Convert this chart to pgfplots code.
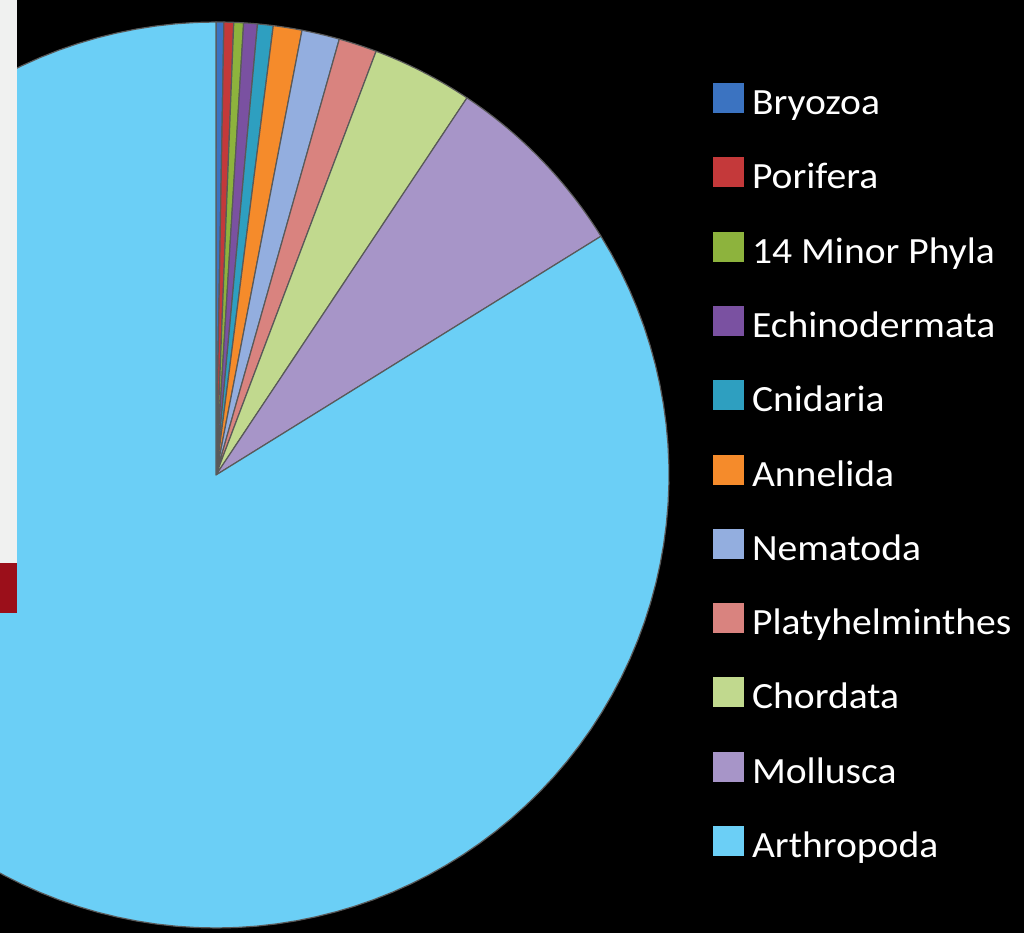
\documentclass[border=0pt]{standalone}
\usepackage{pgfplots}
\pgfplotsset{compat=1.18}
\usepackage{pgfplotstable}
\usepackage{fontspec}
\setmainfont{Carlito}
\newfontfamily\legfont[FakeStretch=1.07]{Carlito}

\definecolor{cBry}{HTML}{3B73C1}
\definecolor{cPor}{HTML}{C4393A}
\definecolor{cMin}{HTML}{8DB33D}
\definecolor{cEch}{HTML}{7A51A1}
\definecolor{cCni}{HTML}{2E9FC0}
\definecolor{cAnn}{HTML}{F58B2B}
\definecolor{cNem}{HTML}{93AEDF}
\definecolor{cPla}{HTML}{D9837F}
\definecolor{cCho}{HTML}{C1D98E}
\definecolor{cMol}{HTML}{A795C8}
\definecolor{cArt}{HTML}{6BCFF6}
\definecolor{panelgray}{HTML}{F0F1F0}
\definecolor{panelred}{HTML}{9B0F1A}

% share of described species (percent)
\pgfplotstableread[col sep=comma]{
phylum,value,col
Bryozoa,0.278,cBry
Porifera,0.347,cPor
14 Minor Phyla,0.347,cMin
Echinodermata,0.489,cEch
Cnidaria,0.558,cCni
Annelida,1.022,cAnn
Nematoda,1.347,cNem
Platyhelminthes,1.361,cPla
Chordata,3.597,cCho
Mollusca,6.819,cMol
Arthropoda,83.835,cArt
}\piedata

\begin{document}
\begin{tikzpicture}[x=1pt,y=1pt]
\useasboundingbox (0,0) rectangle (1024,933);
\fill[black] (0,0) rectangle (1024,933);
\gdef\cumang{0}
\begin{axis}[
  at={(0,0)}, anchor=south west,
  scale only axis, width=1024pt, height=933pt,
  xmin=0, xmax=1024, ymin=0, ymax=933,
  hide axis, clip=true,
  legend image code/.code={\fill[#1,draw=none] (0pt,-8pt) rectangle (31pt,22pt);},
  legend cell align=left,
  legend style={
    at={(rel axis cs:0.6963,0.9110)}, anchor=north west,
    draw=none, fill=none, inner sep=0pt, outer sep=0pt,
    text=white, font=\legfont\fontsize{37}{44}\selectfont,
    row sep=33.8pt, column sep=8pt,
    nodes={inner sep=0pt, text height=28pt, text depth=9pt},
  },
]
\pgfplotsinvokeforeach{0,...,10}{
  \pgfplotstablegetelem{#1}{value}\of\piedata \let\sliceval=\pgfplotsretval
  \pgfplotstablegetelem{#1}{col}\of\piedata \let\slicecol=\pgfplotsretval
  \pgfplotstablegetelem{#1}{phylum}\of\piedata \let\slicename=\pgfplotsretval
  \pgfmathsetmacro\angA{\cumang}
  \pgfmathsetmacro\angB{\cumang+3.6*\sliceval}
  \xdef\cumang{\angB}
  \edef\sliceplot{\noexpand\addplot[fill=\slicecol, draw=black!65, line width=1.2pt, line join=round,
      domain=\angA:\angB, samples=120, variable=\noexpand\t]
      ({216+453*sin(\noexpand\t)},{458+453*cos(\noexpand\t)}) -- (axis cs:216,458) -- cycle;
    \noexpand\addlegendentry{\slicename}}
  \sliceplot
}
\end{axis}
\fill[panelgray] (0,370) rectangle (16.7,933);
\fill[panelred] (0,320) rectangle (16.7,370);
\end{tikzpicture}
\end{document}
